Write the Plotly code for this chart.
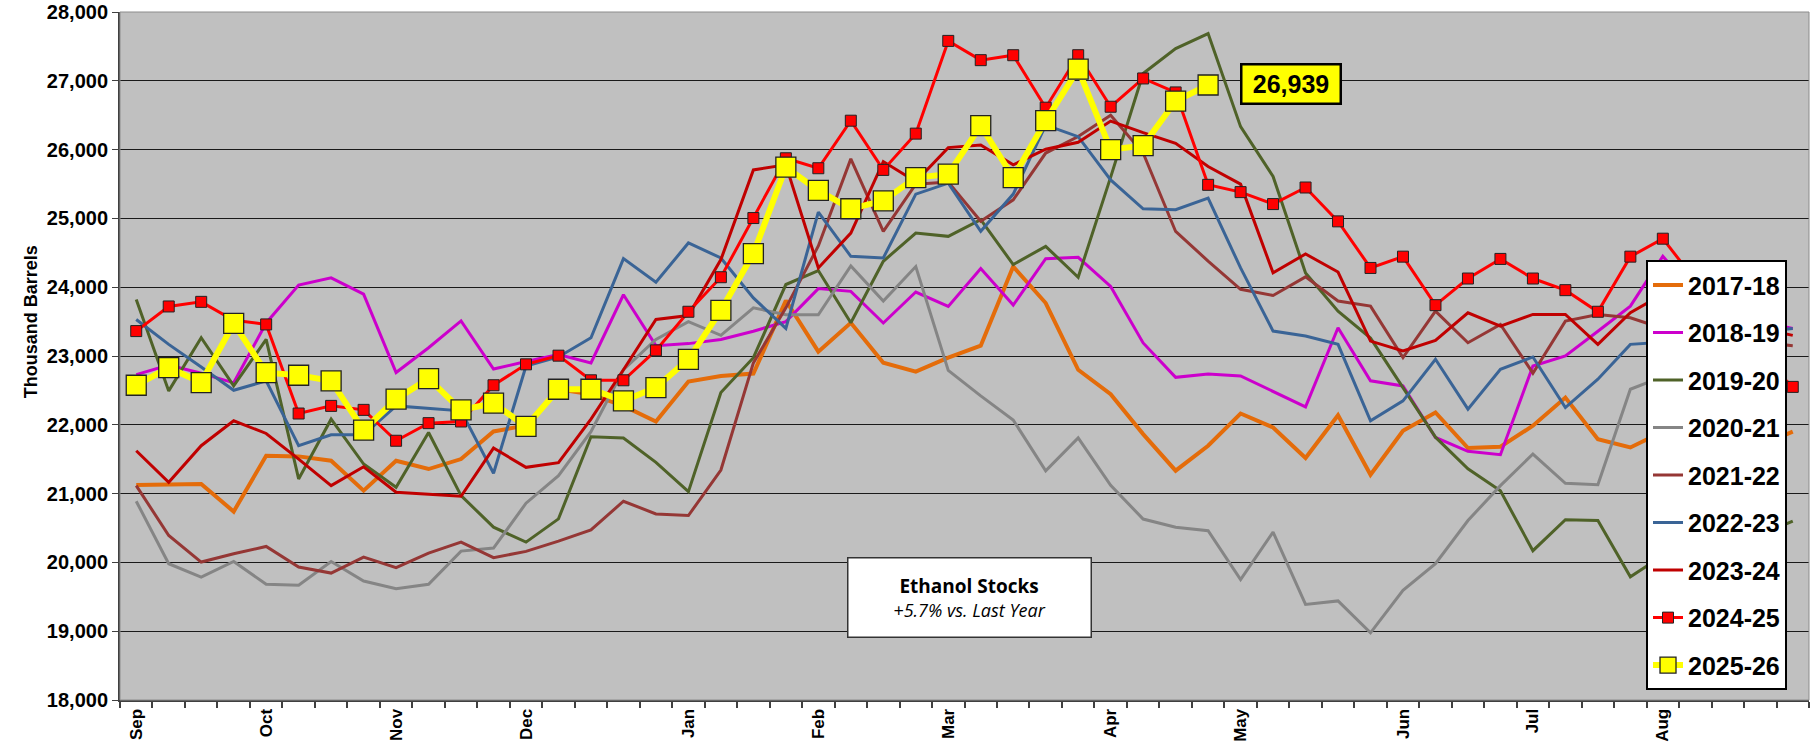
import plotly.graph_objects as go

# ---------------- data ----------------
weeks = list(range(52))
month_pos = [0, 4, 8, 12, 17, 21, 25, 30, 34, 39, 43, 47]
month_lab = ["Sep", "Oct", "Nov", "Dec", "Jan", "Feb", "Mar", "Apr", "May", "Jun", "Jul", "Aug"]

s1718 = [21126, 21140, 21140, 20739, 21551, 21541, 21478, 21043, 21478, 21357, 21502, 21903, 21990,
         22517, 22444, 22275, 22048, 22628, 22710, 22744, 23807, 23063, 23483, 22903, 22773,
         22976, 23150, 24300, 23770, 22800, 22444, 21865, 21333, 21696, 22164, 21961, 21517, 22140,
         21275, 21913, 22179, 21662, 21681, 21986, 22396, 21792, 21671, 21900,
         22000, 21800, 21700, 21900]
s1819 = [22730, 22870, 22750, 22610, 23480, 24030, 24135, 23900, 22760, 23120, 23510, 22810, 22920,
         23020, 22900, 23890, 23150, 23180, 23240, 23360, 23500, 23980, 23940, 23480, 23930,
         23720, 24270, 23740, 24415, 24435, 24010, 23190, 22690, 22740, 22710, 22490, 22260, 23410,
         22640, 22565, 21816, 21614, 21565, 22855, 23000, 23360, 23725, 24450,
         23900, 23600, 23500, 23400]
s1920 = [23821, 22493, 23266, 22565, 23242, 21213, 22082, 21430, 21092, 21889, 20971, 20512, 20295,
         20633, 21826, 21807, 21454, 21029, 22469, 22976, 24039, 24242, 23483, 24377, 24787,
         24739, 24981, 24329, 24594, 24145, 25600, 27106, 27469, 27686, 26333, 25609, 24208, 23652,
         23260, 22540, 21820, 21360, 21040, 20170, 20620, 20610, 19790, 20100,
         20300, 20500, 20400, 20600]
s2021 = [20889, 19981, 19787, 20014, 19681, 19667, 20014, 19729, 19618, 19681, 20164, 20208, 20860,
         21261, 21900, 22800, 23240, 23500, 23300, 23700, 23600, 23600, 24310, 23800, 24300,
         22790, 22420, 22070, 21330, 21810, 21120, 20630, 20510, 20460, 19750, 20440, 19390, 19440,
         18976, 19594, 19981, 20609, 21116, 21575, 21150, 21130, 22517, 22700,
         22800, 22700, 22600, 22500]
s2122 = [21116, 20391, 20005, 20126, 20232, 19932, 19845, 20077, 19923, 20135, 20295, 20068, 20160,
         20309, 20473, 20889, 20705, 20681, 21343, 22900, 23700, 24600, 25865, 24812, 25498,
         25530, 24960, 25270, 25950, 26190, 26500, 25950, 24810, 24380, 23970, 23880, 24150, 23800,
         23725, 22976, 23652, 23193, 23459, 22750, 23507, 23604, 23556, 23400,
         23350, 23300, 23200, 23150]
s2223 = [23531, 23169, 22840, 22502, 22638, 21696, 21855, 21855, 22275, 22242, 22203, 21295, 22855,
         22986, 23266, 24415, 24072, 24643, 24425, 23845, 23401, 25092, 24449, 24425, 25353,
         25512, 24812, 25353, 26357, 26188, 25560, 25140, 25126, 25295, 24280, 23362, 23290, 23169,
         22058, 22348, 22952, 22227, 22807, 22986, 22251, 22662, 23169, 23200,
         23300, 23250, 23350, 23400]
s2324 = [21623, 21164, 21696, 22058, 21874, 21502, 21116, 21391, 21019, 20995, 20961, 21662, 21382,
         21449, 22082, 22800, 23531, 23589, 24401, 25705, 25778, 24280, 24787, 25826, 25536,
         26029, 26068, 25778, 26005, 26106, 26415, 26246, 26092, 25754, 25498, 24208, 24483, 24220,
         23217, 23072, 23227, 23628, 23435, 23604, 23604, 23169, 23628, 23900,
         23700, 23500, 23400, 23300]
s2425 = [23362, 23720, 23787, 23520, 23459, 22164, 22275, 22217, 21768, 22024, 22048, 22575, 22879,
         23005, 22647, 22647, 23082, 23643, 24145, 25005, 25874, 25729, 26420, 25705, 26232,
         27580, 27300, 27372, 26609, 27372, 26623, 27034, 26831, 25488, 25382, 25208, 25449, 24957,
         24280, 24444, 23739, 24126, 24411, 24126, 23957, 23643, 24444, 24705,
         24100, 23600, 23000, 22551]
s2526 = [22575, 22830, 22614, 23473, 22758, 22720, 22638, 21923, 22372, 22671, 22217, 22314, 21976,
         22517, 22517, 22348, 22541, 22952, 23662, 24488, 25744, 25406, 25140, 25256, 25594,
         25643, 26348, 25594, 26420, 27169, 26000, 26058, 26705, 26939]

season_names = ["2017-18", "2018-19", "2019-20", "2020-21", "2021-22",
                "2022-23", "2023-24", "2024-25", "2025-26"]
season_data = [s1718, s1819, s1920, s2021, s2122, s2223, s2324, s2425, s2526]

# ---------------- styling ----------------
colors = ["#E46C0A", "#CC00CC", "#4F6228", "#858585", "#953735",
          "#3A6496", "#C00000", "#FF0000", "#FFFF00"]
widths = [4, 3, 3, 3, 3, 3, 3, 3, 6]

NARROW = "Liberation Sans Narrow, Arial Narrow, Liberation Sans, Arial, sans-serif"
SANS = "Liberation Sans, Arial, sans-serif"

fig = go.Figure()
for i, (name, vals) in enumerate(zip(season_names, season_data)):
    kw = dict(mode="lines")
    if name == "2024-25":
        kw = dict(mode="lines+markers",
                  marker=dict(symbol="square", size=11, color="#FF0000",
                              line=dict(color="#222222", width=1)))
    elif name == "2025-26":
        kw = dict(mode="lines+markers",
                  marker=dict(symbol="square", size=20, color="#FFFF00",
                              line=dict(color="#222222", width=1.3)))
    fig.add_trace(go.Scatter(
        x=weeks[:len(vals)], y=vals, name=name, legendgroup=name,
        line=dict(color=colors[i], width=widths[i]),
        hoverinfo="skip", **kw))

last_val = s2526[-1]
yoy = (s2526[-1] / s2425[len(s2526) - 1] - 1) * 100

fig.update_layout(
    width=1820, height=750, autosize=False,
    margin=dict(l=120, r=11, t=12, b=50, autoexpand=False),
    paper_bgcolor="white", plot_bgcolor="#C0C0C0",
    showlegend=True,
    legend=dict(x=0.9035, y=0.639, xanchor="left", yanchor="top",
                bgcolor="white", bordercolor="black", borderwidth=2,
                font=dict(family=NARROW, size=25, color="black", weight="bold"),
                traceorder="grouped", tracegroupgap=12, itemwidth=30),
    xaxis=dict(range=[-0.5, 51.5], tickmode="array", tickvals=month_pos, ticktext=month_lab,
               tickangle=-90, ticks="", showgrid=False, zeroline=False, automargin=False,
               showline=True, linecolor="#404040", linewidth=2,
               tickfont=dict(family=SANS, size=17, color="black", weight="bold"),
               minor=dict(tick0=-0.5, dtick=1, ticks="outside", ticklen=6,
                          tickcolor="#404040", tickwidth=1.5, showgrid=False)),
    yaxis=dict(range=[18000, 28000], dtick=1000, tickformat=",", showgrid=True,
               gridcolor="#1a1a1a", gridwidth=1.3, zeroline=False, automargin=False,
               showline=True, linecolor="#404040", linewidth=2,
               ticks="outside", ticklen=6, tickcolor="#404040",
               ticklabeloverflow="allow",
               tickfont=dict(family=NARROW, size=20, color="black", weight="bold")),
    shapes=[dict(type="rect", xref="paper", yref="paper", x0=0, x1=1, y0=0, y1=1,
                 line=dict(color="#8c8c8c", width=1), layer="above")],
    annotations=[
        dict(text="Thousand Barrels", xref="paper", yref="paper", x=-0.06, y=0.55,
             textangle=-90, showarrow=False,
             font=dict(family=SANS, size=18, color="black", weight="bold")),
        dict(text=f"{last_val:,}", xref="paper", yref="paper", x=0.6933, y=0.8948,
             xanchor="center", yanchor="middle", showarrow=False,
             bgcolor="#FFFF00", bordercolor="black", borderwidth=2.5, borderpad=1,
             width=95, height=35,
             font=dict(family=NARROW, size=25, color="black", weight="bold")),
        dict(text=("<b><span style='font-size:19px'>Ethanol Stocks</span></b><br><i>"
                   + f"{yoy:+.1f}% vs. Last Year" + "</i>"),
             xref="paper", yref="paper", x=0.5027, y=0.1483,
             xanchor="center", yanchor="middle", showarrow=False,
             bgcolor="white", bordercolor="#333333", borderwidth=1.5, borderpad=1,
             width=240, height=76,
             font=dict(family="Open Sans, Noto Sans, sans-serif", size=18, color="black")),
    ],
)

fig.write_html("out.html", config={"displayModeBar": False},
               post_script="document.body.style.margin='0px';")
